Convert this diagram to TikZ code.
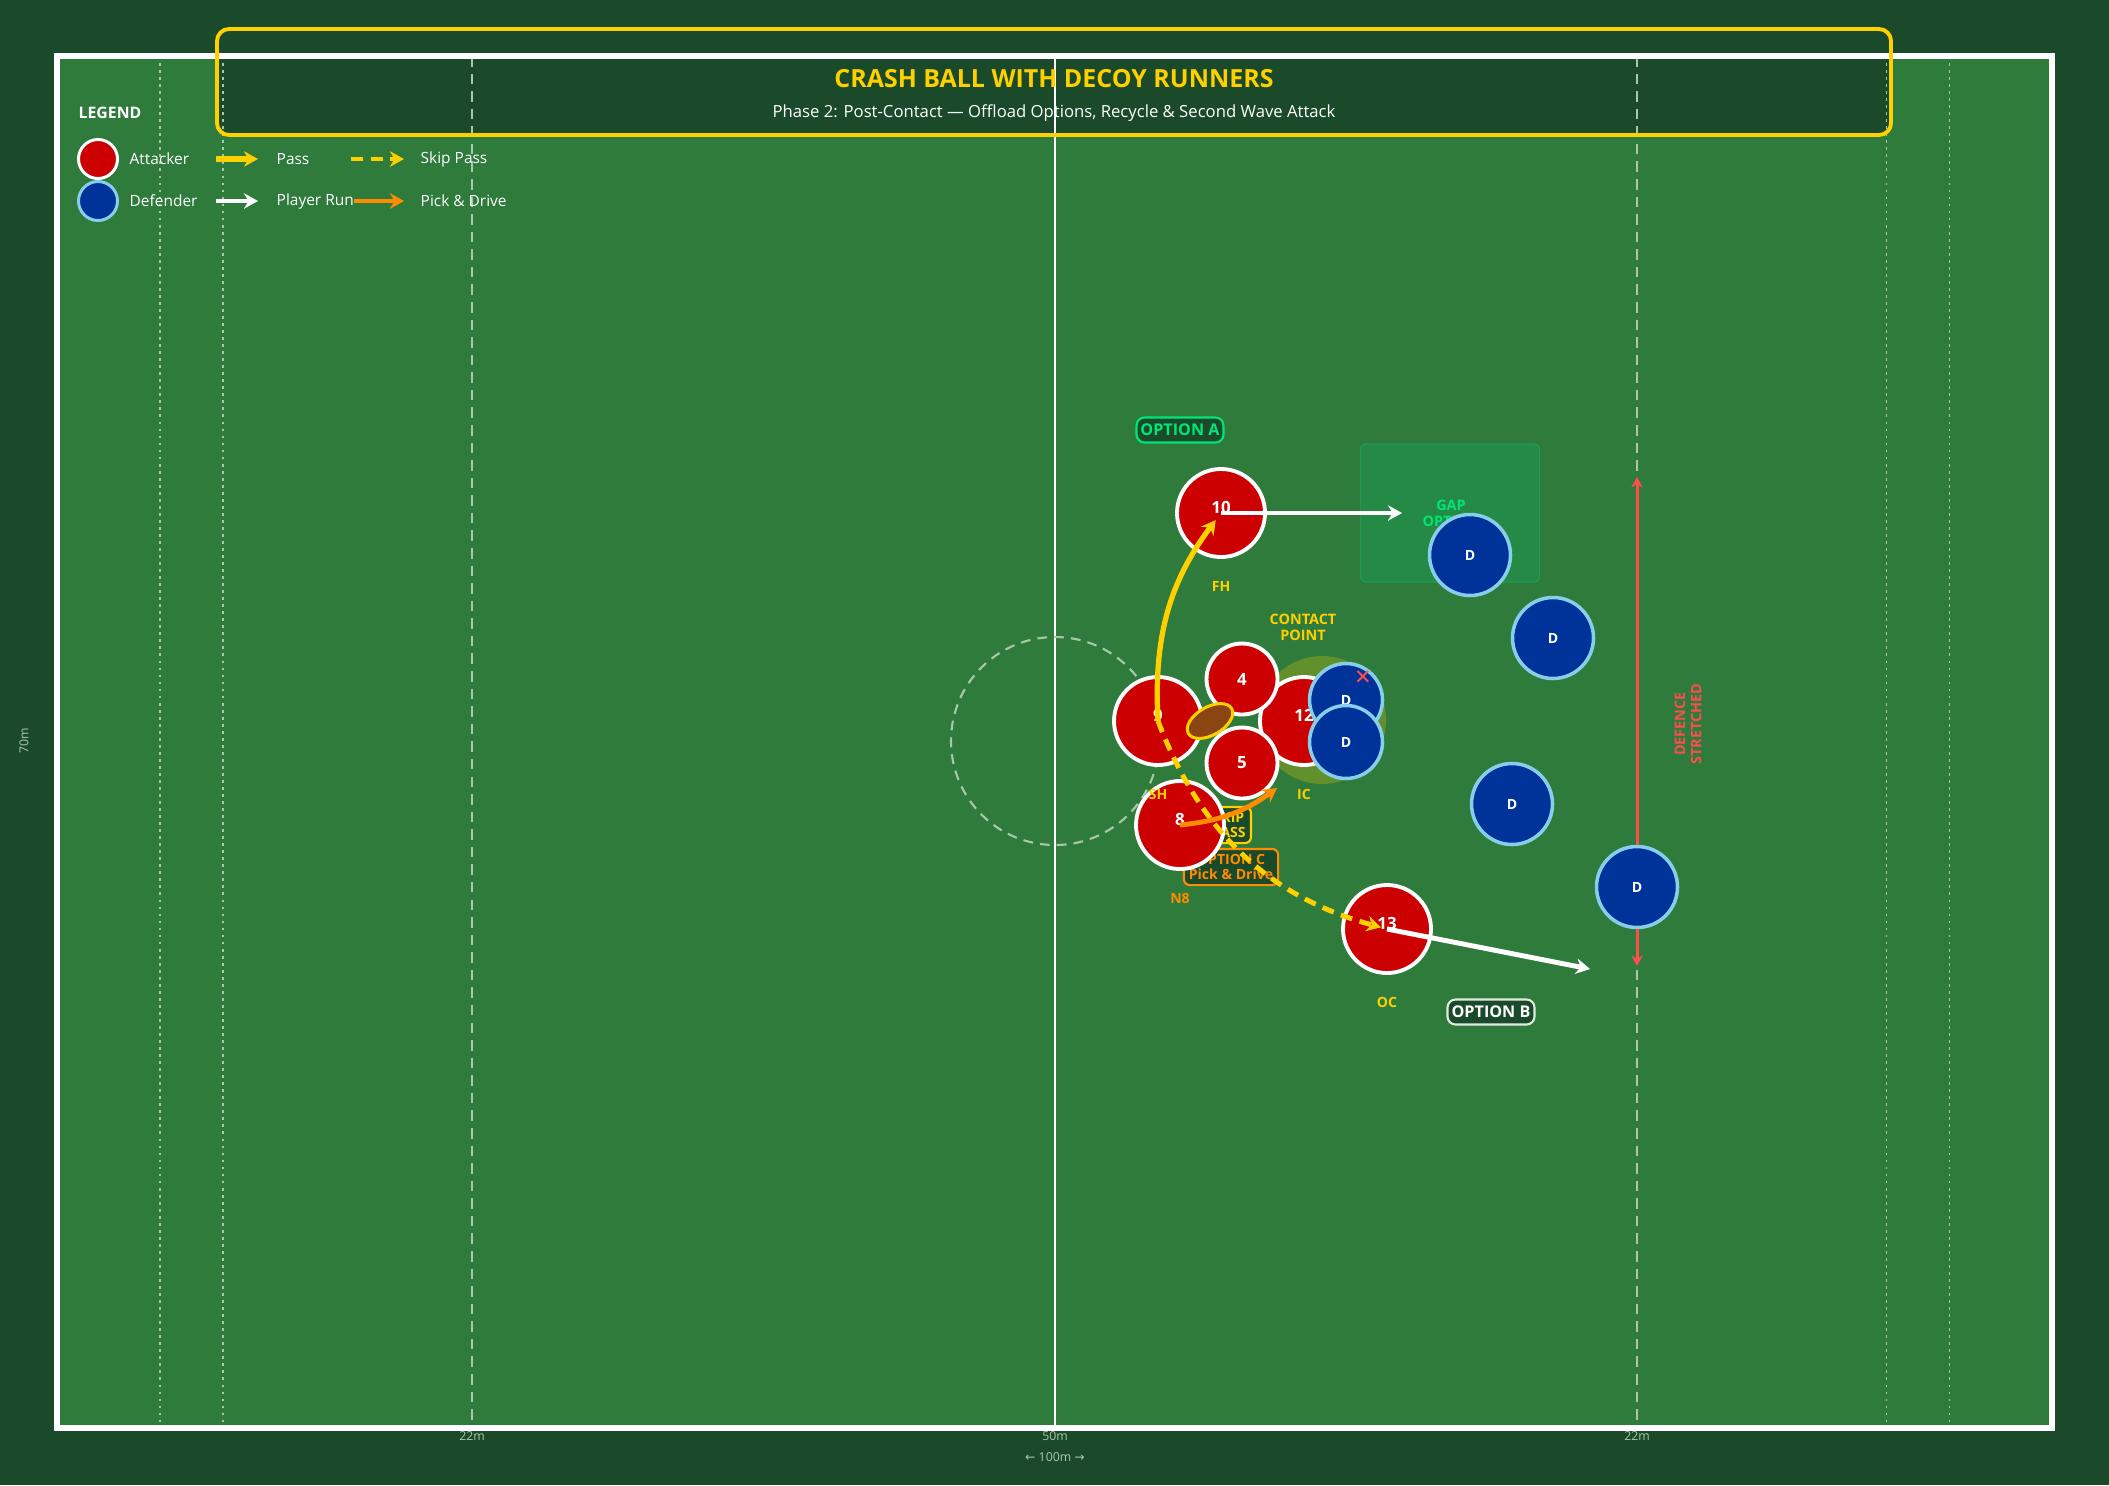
\documentclass[tikz,border=0pt]{standalone}
\usepackage{fontspec}
\setmainfont{Open Sans}
\newfontfamily\symfont{DejaVu Sans}
\usetikzlibrary{positioning,arrows.meta,backgrounds,shapes.geometric}
\definecolor{pitchbg}{HTML}{1B4A2B}
\definecolor{grass}{HTML}{2E7B3C}
\definecolor{gold}{HTML}{FFD000}
\definecolor{optgreen}{HTML}{00E676}
\definecolor{driveorange}{HTML}{FF8C00}
\definecolor{attred}{HTML}{CC0000}
\definecolor{defblue}{HTML}{003399}
\definecolor{defrim}{HTML}{87CEEB}
\definecolor{warn}{HTML}{FF4D4D}
\definecolor{marking}{HTML}{A8C8A8}
\definecolor{gapfill}{HTML}{258A45}
\definecolor{leather}{HTML}{8B4513}
\newcommand{\fsz}[2]{\fontsize{#1}{#2}\selectfont}
\tikzset{%
attacker/.style={draw=white,fill=attred,circle,line width=1.1pt,minimum size=8.8mm,inner sep=0,text=white,text depth=1.2mm,font=\fsz{4.8}{5.5}\bfseries},
forward/.style={attacker,minimum size=7.1mm,text depth=},
defender/.style={draw=defrim,fill=defblue,circle,line width=1pt,minimum size=8.1mm,inner sep=0,text=white,font=\fsz{4}{4.6}\bfseries},
tackler/.style={defender,minimum size=7.3mm},
legatt/.style={attacker,minimum size=3.9mm,line width=0.85pt},
legdef/.style={defender,minimum size=3.9mm,line width=0.85pt},
poslbl/.style={font=\fsz{4}{4.6}\bfseries,inner sep=0,text=gold},
optbox/.style={draw,fill=pitchbg,rounded corners=0.8mm,line width=0.6pt,inner sep=0,font=\fsz{4.6}{5.5}\bfseries,minimum width=8.7mm,minimum height=2.5mm},
tagbox/.style={draw,fill=pitchbg,rounded corners=0.6mm,line width=0.6pt,inner sep=0.5mm,align=center,font=\fsz{4}{4.5}\bfseries},
twoline/.style={align=center,inner sep=0,font=\fsz{4.1}{4.6}\bfseries},
pass/.style={draw=gold,line width=1.5pt,-{Stealth[length=4pt,width=4.4pt]}},
skippass/.style={pass,line width=1.4pt,dash pattern=on 3.4pt off 2.2pt},
run/.style={draw=white,line width=1.4pt,-{Stealth[length=4pt,width=4.4pt]}},
pickdrive/.style={draw=driveorange,line width=1.4pt,-{Stealth[length=4pt,width=4.4pt]}},
stretch/.style={draw=warn,line width=0.85pt,-{Stealth[length=3pt,width=3.2pt]}},
legtext/.style={font=\fsz{4.4}{5},text=white,anchor=west,inner sep=0},
marklabel/.style={font=\fsz{3.5}{4},text=marking,inner sep=0},
ball/.style={ellipse,draw=gold,fill=leather,line width=0.85pt,minimum width=5mm,minimum height=2.8mm,rotate=30,inner sep=0},
halo/.style={circle,fill=gold,fill opacity=0.25,minimum size=12.8mm,inner sep=0},
gapzone/.style={rectangle,rounded corners=0.5mm,fill=gapfill,draw=gapfill!80!optgreen,line width=0.4pt,minimum width=17.9mm,minimum height=13.8mm}
}
\begin{document}
\begin{tikzpicture}[x=0.1mm,y=-0.1mm]

    % pitch
    \path[use as bounding box,fill=pitchbg] (0,0) rectangle (2109,1485);
    \fill[grass] (57,56) rectangle (2052,1428);
    \fill[pitchbg,rounded corners=1.2mm] (217,29) rectangle (1891,135);
    \foreach \xx in {160,223,1886,1949}
        \draw[marking,line width=0.3pt,dash pattern=on 0.8pt off 1.2pt] (\xx,56) -- (\xx,1428);
    \foreach \xx in {472,1637}
        \draw[marking,line width=0.6pt,dash pattern=on 3pt off 2pt] (\xx,56) -- (\xx,1428);
    \draw[white,line width=0.7pt] (1055,56) -- (1055,1428);
    \draw[white,line width=1.7pt] (57,56) rectangle (2052,1428);
    \coordinate (kickoff) at (1055,741);
    \draw[marking,line width=0.6pt,dash pattern=on 2.8pt off 2pt] (kickoff) circle[radius=104];

    \node[marklabel] (ltwo) at (472,1436) {22m};
    \node[marklabel] (lhalf) at (1055,1436) {50m};
    \node[marklabel] (rtwo) at (1637,1436) {22m};
    \node[marklabel] (length) at (1055,1457) {{\symfont←} 100m {\symfont→}};
    \node[marklabel,rotate=90] (width) at (24,741) {70m};

    % title
    \draw[gold,line width=1.1pt,rounded corners=1.2mm] (217,29) rectangle (1891,135);
    \node[text=gold,font=\fsz{7.1}{8}\bfseries] (ttl) at (1054,79) {CRASH BALL WITH DECOY RUNNERS};
    \node[text=white,font=\fsz{4.75}{5.5}] (subttl) at (1054,113) {Phase 2: Post-Contact — Offload Options, Recycle \& Second Wave Attack};

    % legend
    \node[font=\fsz{4.5}{5}\bfseries,text=white,anchor=west,inner sep=0] (leghead) at (78,113) {LEGEND};
    \node[legatt] (legatk) at (98,159) {};
    \node[legtext] (atklbl) [right=1mm of legatk] {Attacker};
    \node[legdef] (legdfd) at (98,201) {};
    \node[legtext] (dfdlbl) [right=1mm of legdfd] {Defender};
    \coordinate (passa) at (216,159); \coordinate (passb) at (258,159);
    \coordinate (runa) at (216,201); \coordinate (runb) at (258,201);
    \coordinate (skipa) at (351,159); \coordinate (skipb) at (404,159);
    \coordinate (drivea) at (354,201); \coordinate (driveb) at (404,201);
    \path (passa) edge[pass] (passb);
    \path (runa) edge[run] (runb);
    \path (skipa) edge[skippass] (skipb);
    \path (drivea) edge[pickdrive] (driveb);
    \node[legtext] (passlbl) at (276,159) {Pass};
    \node[legtext] (runlbl) at (276,201) {Player Run};
    \node[legtext] (skiplbl) at (420,159) {Skip Pass};
    \node[legtext] (drivelbl) at (420,201) {Pick \& Drive};

    % zones and tags
    \node[halo] (contact) at (1322,720) {};
    \node[gapzone] (gap) at (1450,513) {};
    \node[twoline,text=optgreen] (gaplbl) at (1451,513) {GAP\\OPTION};
    \node[twoline,text=gold] (contactlbl) at (1303,627) {CONTACT\\POINT};
    \node[tagbox,draw=gold,text=gold,minimum width=4.4mm] (skiptag) at (1229,825) {SKIP\\PASS};
    \node[tagbox,draw=driveorange,text=driveorange,minimum width=8.8mm] (opttagc) at (1231,867) {OPTION C\\Pick \& Drive};

    % attack
    \node[attacker] (ic) at (1304,721) {12};
    \node[attacker] (sh) at (1158,721) {9};
    \node[forward] (lock4) at (1242,679) {4};
    \node[forward] (lock5) at (1242,763) {5};
    \node[attacker] (fh) at (1221,513) {10};
    \node[attacker] (n8) at (1180,825) {8};
    \node[attacker] (oc) at (1387,929) {13};
    \node[ball] (rugby) at (1210,721) {};

    \node[poslbl] (fhlbl) [below=2.2mm of fh] {FH};
    \node[poslbl] (shlbl) [below=2.2mm of sh] {SH};
    \node[poslbl] (iclbl) [below=2.2mm of ic] {IC};
    \node[poslbl,text=driveorange] (n8lbl) [below=2.2mm of n8] {N8};
    \node[poslbl] (oclbl) [below=2.2mm of oc] {OC};

    % defence
    \node[tackler] (tackle1) at (1346,700) {D};
    \node[tackler] (tackle2) at (1346,742) {D};
    \node[defender] (d1) at (1470,555) {D};
    \node[defender] (d2) at (1553,638) {D};
    \node[defender] (d3) at (1512,804) {D};
    \node[defender] (d4) at (1637,887) {D};
    \node[text=warn,font=\fsz{6}{6}\symfont,inner sep=0] (xmark) at (1363,678) {✕};

    % movement
    \coordinate (fhrun) at (1402,513);
    \coordinate (ocrun) at (1590,969);
    \coordinate (drivetip) at (1277,788);
    \coordinate (stretchtop) at (1637,477);
    \coordinate (stretchbot) at (1637,966);

    \path (sh.center) edge[pass,bend left=20,shorten >=2.5pt] (fh.center);
    \path (sh.center) edge[skippass,bend right=27,shorten >=1.8pt] (oc.center);
    \path (n8.center) edge[pickdrive,bend right=15] (drivetip);
    \path (fh.center) edge[run] (fhrun)
          (oc.center) edge[run] (ocrun);
    \path (d4) edge[stretch] (stretchtop)
               edge[stretch] (stretchbot);

    \node[optbox,draw=optgreen,text=optgreen] (opta) at (1180,430) {OPTION A};
    \node[optbox,draw=white!85!grass,text=white] (optb) at (1491,1012) {OPTION B};
    \node[twoline,text=warn,rotate=90] (stretchlbl) at (1688,724) {DEFENCE\\STRETCHED};
  \end{tikzpicture}
\end{document}
